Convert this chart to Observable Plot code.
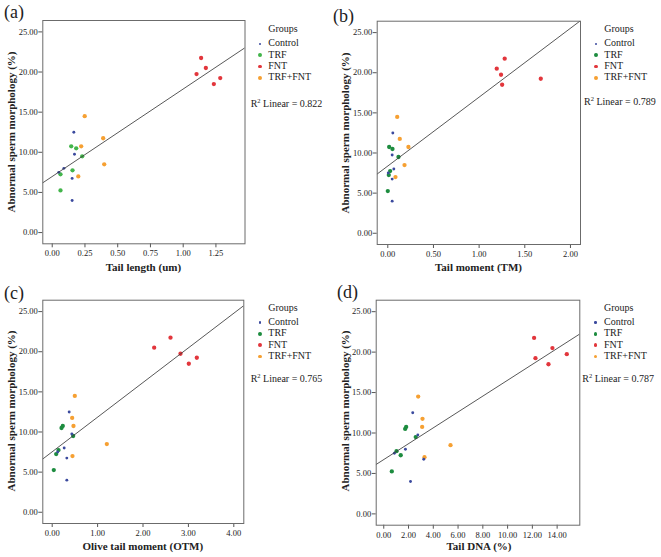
<!DOCTYPE html>
<html><head><meta charset="utf-8">
<script src="https://cdn.jsdelivr.net/npm/d3@7"></script>
<script src="https://cdn.jsdelivr.net/npm/@observablehq/plot@0.6"></script>
<style>
body{margin:0;background:#fff;}
#root{position:relative;width:661px;height:557px;overflow:hidden;font-family:"Liberation Serif","Tinos","DejaVu Serif","Noto Serif",serif;color:#222;}
#root svg text{font-family:"Liberation Serif","Tinos","DejaVu Serif","Noto Serif",serif;}
.panel{position:absolute;}
.t{position:absolute;white-space:nowrap;line-height:1;}
.b{position:absolute;border-radius:50%;}
</style></head><body><div id="root"></div>
<script>
// ---- data ----
const groups = ["Control", "TRF", "FNT", "TRF+FNT"];
// Abnormal sperm morphology (%) per animal, same animals in all panels
const yControl = [12.5, 9.75, 8.0, 7.5, 6.75, 4.0];
const yTRF = [10.75, 10.5, 9.5, 7.75, 7.25, 5.25];
const yFNT = [21.75, 20.5, 19.75, 19.25, 18.5];
const yTRFFNT = [14.5, 11.75, 10.75, 8.5, 7.0];

// (a) Tail length (um)
const tailLengthControl = [0.165, 0.170, 0.089, 0.050, 0.152, 0.152];
const tailLengthTRF = [0.145, 0.183, 0.229, 0.155, 0.063, 0.063];
const tailLengthFNT = [1.137, 1.173, 1.102, 1.283, 1.234];
const tailLengthTRFFNT = [0.248, 0.389, 0.221, 0.397, 0.199];

// (b) Tail moment (TM)
const tailMomentControl = [0.055, 0.048, 0.066, 0.005, 0.048, 0.048];
const tailMomentTRF = [0.015, 0.051, 0.117, 0.026, 0.011, 0.0];
const tailMomentFNT = [1.28, 1.193, 1.24, 1.675, 1.252];
const tailMomentTRFFNT = [0.103, 0.131, 0.226, 0.183, 0.084];

// (c) Olive tail moment (OTM)
const otmControl = [0.374, 0.432, 0.264, 0.12, 0.322, 0.322];
const otmTRF = [0.233, 0.205, 0.462, 0.139, 0.088, 0.035];
const otmFNT = [2.606, 2.246, 2.826, 3.185, 3.009];
const otmTRFFNT = [0.498, 0.44, 0.469, 1.203, 0.447];

// (d) Tail DNA (%)
const tailDnaControl = [2.34, 2.75, 1.75, 0.86, 3.23, 2.16];
const tailDnaTRF = [1.81, 1.73, 2.58, 1.03, 1.37, 0.65];
const tailDnaFNT = [12.14, 13.62, 14.78, 12.25, 13.3];
const tailDnaTRFFNT = [2.78, 3.13, 3.1, 5.39, 3.29];

const r2Values = ["0.822", "0.789", "0.765", "0.787"];
const panelLetters = ["(a)", "(b)", "(c)", "(d)"];
const xTitles = ["Tail length (um)", "Tail moment (TM)", "Olive tail moment (OTM)", "Tail DNA (%)"];
const yTitle = "Abnormal sperm morphology (%)";
const yTicks = [0, 5, 10, 15, 20, 25];
const xTicksA = [0, 0.25, 0.5, 0.75, 1.0, 1.25];
const xTicksB = [0, 0.5, 1.0, 1.5, 2.0];
const xTicksC = [0, 1, 2, 3, 4];
const xTicksD = [0, 2, 4, 6, 8, 10, 12, 14];

// ---- styling / layout ----
const colorControl = "#3b4a9e";
const colorFNT = "#e2363c";
const colorTRFFNT = "#f6a032";
const yDomain = [-1.4, 26.42];
const FONT = "'Liberation Serif','Tinos','DejaVu Serif','Noto Serif',serif";

const panels = [
  {ox:0, oy:0, left:42.3, right:244.5, top:20, bottom:243.3, xDomain:[-0.072,1.472], xTicks:xTicksA,
   xs:[tailLengthControl,tailLengthTRF,tailLengthFNT,tailLengthTRFFNT], trf:"#43b54b",
   letter:[4,3], yT:[11,131.5], xT:[143.4,266.7], leg:[268.3,29.3], r2:[250.7,103.3]},
  {ox:330, oy:0, left:46.7, right:250, top:20.7, bottom:244, xDomain:[-0.116,2.11], xTicks:xTicksB,
   xs:[tailMomentControl,tailMomentTRF,tailMomentFNT,tailMomentTRFFNT], trf:"#1d8c3f",
   letter:[333,7], yT:[345,132.5], xT:[478.5,266.7], leg:[604.3,29.3], r2:[584,100.5]},
  {ox:0, oy:278, left:42.3, right:243.3, top:21.7, bottom:245, xDomain:[-0.207,4.22], xTicks:xTicksC,
   xs:[otmControl,otmTRF,otmFNT,otmTRFFNT], trf:"#1d8c3f",
   letter:[4,284], yT:[11,411], xT:[142.8,546.3], leg:[268.3,308], r2:[250.7,378]},
  {ox:330, oy:278, left:45.7, right:249.3, top:21.7, bottom:246.7, xDomain:[-0.61,15.83], xTicks:xTicksD,
   xs:[tailDnaControl,tailDnaTRF,tailDnaFNT,tailDnaTRFFNT], trf:"#1d8c3f",
   letter:[337,283], yT:[345,411], xT:[479,546.3], leg:[604,308], r2:[582.3,378]}
];

const root = document.getElementById("root");
function addText(txt, x, y, css, anchor) {
  const d = document.createElement("div");
  d.className = "t";
  d.innerHTML = txt;
  d.style.left = x + "px"; d.style.top = y + "px";
  Object.assign(d.style, css || {});
  d.style.transform = anchor === "center" ? "translate(-50%,-50%)" : anchor === "rot" ? "translate(-50%,-50%) rotate(-90deg)" : "translate(0,-50%)";
  root.appendChild(d);
}
function addBullet(cx, cy, r, color) {
  const d = document.createElement("div");
  d.className = "b";
  d.style.left = (cx - r) + "px"; d.style.top = (cy - r) + "px";
  d.style.width = (2*r) + "px"; d.style.height = (2*r) + "px";
  d.style.background = color;
  root.appendChild(d);
}
function fit(xs, ys) {
  const mx = d3.mean(xs), my = d3.mean(ys);
  let sxy = 0, sxx = 0;
  xs.forEach((x, i) => { sxy += (x - mx) * (ys[i] - my); sxx += (x - mx) ** 2; });
  const b = sxy / sxx;
  return {a: my - b * mx, b};
}
const yGroups = [yControl, yTRF, yFNT, yTRFFNT];
const fmt = d => d.toFixed(2);

panels.forEach((p, pi) => {
  const colors = [colorControl, p.trf, colorFNT, colorTRFFNT];
  const rows = [];
  groups.forEach((g, gi) => {
    p.xs[gi].forEach((x, i) => rows.push({x, y: yGroups[gi][i], group: g, color: colors[gi], r: gi === 0 ? 1.45 : 2.15}));
  });
  const allX = rows.map(d => d.x), allY = rows.map(d => d.y);
  const {a, b} = fit(allX, allY);
  const fitLine = p.xDomain.map(x => ({x, y: a + b * x}));
  const W = 331, H = 279;
  const chart = Plot.plot({
    width: W, height: H,
    marginLeft: p.left, marginRight: W - p.right, marginTop: p.top, marginBottom: H - p.bottom,
    x: {domain: p.xDomain},
    y: {domain: yDomain},
    color: {type: "identity"},
    r: {type: "identity"},
    style: {fontFamily: FONT, fontSize: "8.5px", color: "#222", background: "transparent", overflow: "visible"},
    marks: [
      Plot.axisX({ticks: p.xTicks, tickFormat: fmt, tickSize: 4, tickPadding: 2.5, label: null, stroke: "#555"}),
      Plot.axisY({ticks: yTicks, tickFormat: fmt, tickSize: 4, tickPadding: 1, label: null, stroke: "#555"}),
      Plot.dot(rows, {x: "x", y: "y", r: "r", fill: "color", stroke: null}),
      Plot.line(fitLine, {x: "x", y: "y", stroke: "#3a3a3a", strokeWidth: 0.85, clip: true}),
      Plot.frame({stroke: "#6b6b6b", strokeWidth: 1})
    ]
  });
  const wrap = document.createElement("div");
  wrap.className = "panel";
  wrap.style.left = p.ox + "px"; wrap.style.top = p.oy + "px";
  wrap.appendChild(chart);
  root.appendChild(wrap);

  addText(panelLetters[pi], p.letter[0], p.letter[1] + 9, {fontSize: "18px"});
  addText(yTitle, p.yT[0], p.yT[1], {fontSize: "11px", fontWeight: "bold"}, "rot");
  addText(xTitles[pi], p.xT[0], p.xT[1], {fontSize: "11px", fontWeight: "bold"}, "center");
  addText("Groups", p.leg[0], p.leg[1], {fontSize: "10px"});
  groups.forEach((g, gi) => {
    const yy = p.leg[1] + 14 + gi * 11.3;
    addText(g, p.leg[0], yy, {fontSize: "10px"});
    addBullet(p.leg[0] - 8.5, yy + 0.5, gi === 0 ? 1.3 : 1.9, colors[gi]);
  });
  addText("R<sup style='font-size:6.5px;vertical-align:4px'>2</sup> Linear = " + r2Values[pi], p.r2[0], p.r2[1], {fontSize: "10px"});
});
</script></body></html>
